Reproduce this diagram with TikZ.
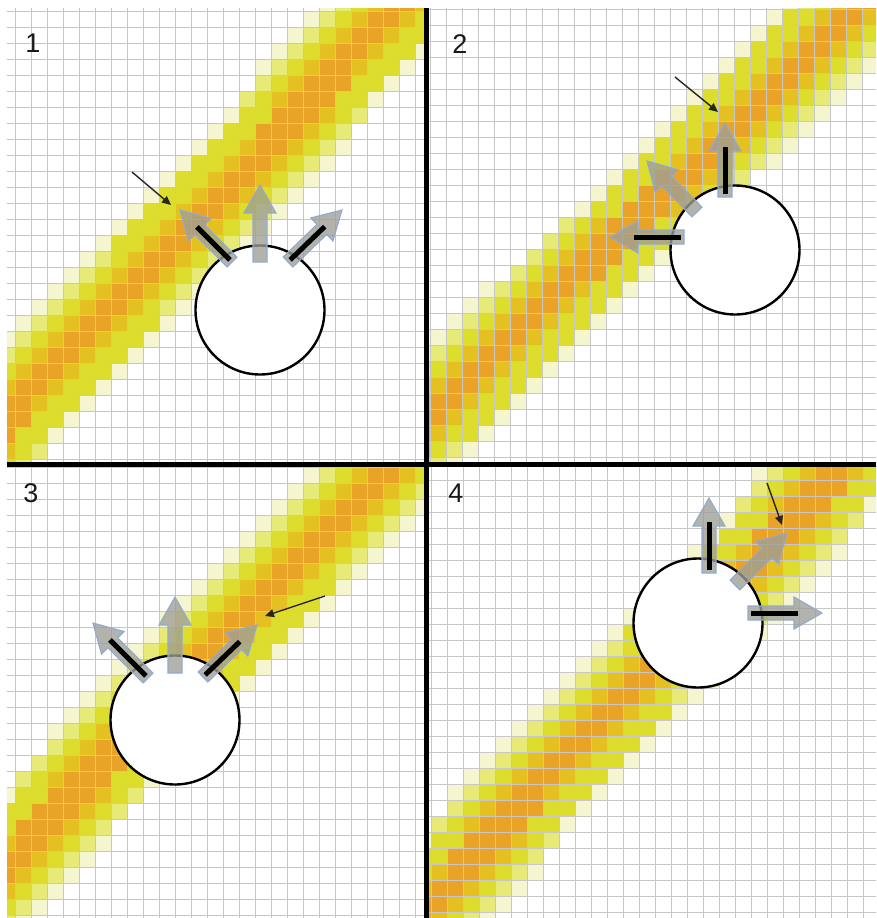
\documentclass[tikz,border=0pt]{standalone}
\usepackage{fontspec}
\newfontfamily\labelfont{Liberation Sans}
\usetikzlibrary{arrows.meta, calc}

% fat see-through arrow, tail #1 to tip #2
\newcommand{\fatarrow}[2]{%
  \filldraw[fatarrow] (#1) -- ($(#1)!7pt!90:(#2)$)
    -- ($(#2)!28pt!(#1)!7pt!-90:(#1)$)
    -- ($(#2)!28pt!(#1)!16pt!-90:(#1)$)
    -- (#2)
    -- ($(#2)!28pt!(#1)!16pt!90:(#1)$)
    -- ($(#2)!28pt!(#1)!7pt!90:(#1)$)
    -- ($(#1)!7pt!-90:(#2)$) -- cycle;
}
\newcommand{\arrowbar}[2]{%
  \draw[barline] ($(#1)!3pt!(#2)$) -- ($(#2)!24pt!(#1)$);
}

% panel: clip box (#1,#2)-(#3,#4), grid origin (#5,#6), band through (#7,#8) with dx/dy = #9
\newcommand{\bandpanel}[9]{%
  \begin{scope}
    \clip (#1,#2) rectangle (#3,#4);
    \pgfmathtruncatemacro\rowA{floor((#2-#6)/16)}
    \pgfmathtruncatemacro\rowB{ceil((#4-#6)/16)}
    \foreach \r in {\rowA,...,\rowB}{
      \pgfmathsetmacro\cy{#6+(\r+0.5)*16}
      \pgfmathsetmacro\xc{#7+(\cy-#8)*(#9)}
      \pgfmathtruncatemacro\cc{floor((\xc-#5)/16)}
      \foreach \dc in {-6,...,6}{
        \pgfmathsetmacro\cx{#5+(\cc+\dc+0.5)*16}
        \pgfmathsetmacro\hh{abs(\cx-\xc)/16}
        \pgfmathtruncatemacro\lvl{\hh<1.1?1:(\hh<2.0?2:(\hh<3.4?3:(\hh<4.0?4:(\hh<4.9?5:0))))}
        \ifnum\lvl>0 \fill[fill=bandc\lvl] ({\cx-8},{\cy-8}) rectangle ({\cx+8},{\cy+8});\fi
      }
    }
    \pgfmathtruncatemacro\colA{floor((#1-#5)/16)}
    \pgfmathtruncatemacro\colB{ceil((#3-#5)/16)}
    \foreach \i in {\colA,...,\colB}
      \draw[gridline] ({#5+\i*16},#2) -- ({#5+\i*16},#4);
    \foreach \j in {\rowA,...,\rowB}
      \draw[gridline] (#1,{#6+\j*16}) -- (#3,{#6+\j*16});
  \end{scope}
}

\begin{document}
\begin{tikzpicture}[
    x=1pt, y=-1pt,
    fatarrow/.style={
        draw=arrowedge, fill=arrowfill, fill opacity=0.78,
        line width=1.1pt, line join=miter
    },
    barline/.style={line width=5pt, black},
    pointer/.style={
        -{Triangle[length=9pt,width=8pt]}, line width=1.4pt, black!85
    },
    disc/.style={
        circle, draw=black, fill=white, line width=2.4pt,
        minimum size=129pt, inner sep=0pt
    },
    gridline/.style={black!22, line width=0.9pt},
    divider/.style={line width=5pt, black},
    tag/.style={
        font=\labelfont\fontsize{27}{28}\selectfont, text=black!90, inner sep=0pt
    },
]

\definecolor{bandc1}{RGB}{233,163,38}
\definecolor{bandc2}{RGB}{228,192,33}
\definecolor{bandc3}{RGB}{220,221,44}
\definecolor{bandc4}{RGB}{232,234,120}
\definecolor{bandc5}{RGB}{245,245,208}
\definecolor{arrowfill}{RGB}{158,158,150}
\definecolor{arrowedge}{RGB}{145,170,210}

\fill[white] (0,0) rectangle (876,918);
\useasboundingbox (0,0) rectangle (876,918);

% ============================================================
% Grids and bands
% ============================================================

\bandpanel{7}{8}{424}{462}{15}{11.7}{390}{16}{-0.952}
\bandpanel{428}{8}{876}{462}{446.5}{9}{790}{70}{-1.03}
\bandpanel{7}{466}{424}{918}{15}{467}{270}{590}{-0.969}
\bandpanel{428}{466}{876}{918}{447}{464}{820}{490}{-0.95}

% ============================================================
% Panel 1
% ============================================================

\node[disc] (d1) at (260,310) {};
\coordinate (t1a) at (232,262); \coordinate (h1a) at (180,210);
\coordinate (t1b) at (260,262); \coordinate (h1b) at (260,185);
\coordinate (t1c) at (288,262); \coordinate (h1c) at (342,210);
\fatarrow{t1a}{h1a} \fatarrow{t1b}{h1b} \fatarrow{t1c}{h1c}
\arrowbar{t1a}{h1a} \arrowbar{t1c}{h1c}
\coordinate (p1s) at (132,172); \coordinate (p1e) at (171,205);
\draw[pointer] (p1s) -- (p1e);
\node[tag] (n1) at (33,43) {1};

% ============================================================
% Panel 2
% ============================================================

\node[disc] (d2) at (735,250) {};
\coordinate (t2a) at (725,197); \coordinate (h2a) at (725,123);
\coordinate (t2b) at (697,212); \coordinate (h2b) at (647,161);
\coordinate (t2c) at (684,237); \coordinate (h2c) at (610,237);
\fatarrow{t2a}{h2a} \fatarrow{t2b}{h2b} \fatarrow{t2c}{h2c}
\arrowbar{t2a}{h2a} \arrowbar{t2c}{h2c}
\coordinate (p2s) at (675,77); \coordinate (p2e) at (718,112);
\draw[pointer] (p2s) -- (p2e);
\node[tag] (n2) at (460,44) {2};

% ============================================================
% Panel 3
% ============================================================

\node[disc] (d3) at (175,720) {};
\coordinate (t3a) at (148,678); \coordinate (h3a) at (93,623);
\coordinate (t3b) at (175,673); \coordinate (h3b) at (175,597);
\coordinate (t3c) at (203,677); \coordinate (h3c) at (257,625);
\fatarrow{t3a}{h3a} \fatarrow{t3b}{h3b} \fatarrow{t3c}{h3c}
\arrowbar{t3a}{h3a} \arrowbar{t3c}{h3c}
\coordinate (p3s) at (325,596); \coordinate (p3e) at (265,616);
\draw[pointer] (p3s) -- (p3e);
\node[tag] (n3) at (31,493) {3};

% ============================================================
% Panel 4
% ============================================================

\node[disc] (d4) at (698,623) {};
\coordinate (t4a) at (709,573); \coordinate (h4a) at (709,498);
\coordinate (t4b) at (735,585); \coordinate (h4b) at (787,533);
\coordinate (t4c) at (748,613); \coordinate (h4c) at (822,613);
\fatarrow{t4a}{h4a} \fatarrow{t4b}{h4b} \fatarrow{t4c}{h4c}
\arrowbar{t4a}{h4a} \arrowbar{t4c}{h4c}
\coordinate (p4s) at (767,483); \coordinate (p4e) at (782,525);
\draw[pointer] (p4s) -- (p4e);
\node[tag] (n4) at (456,493) {4};

% dividers
\draw[divider] (426,8) -- (426,918);
\draw[divider] (7,464) -- (876,464);

\end{tikzpicture}
\end{document}
